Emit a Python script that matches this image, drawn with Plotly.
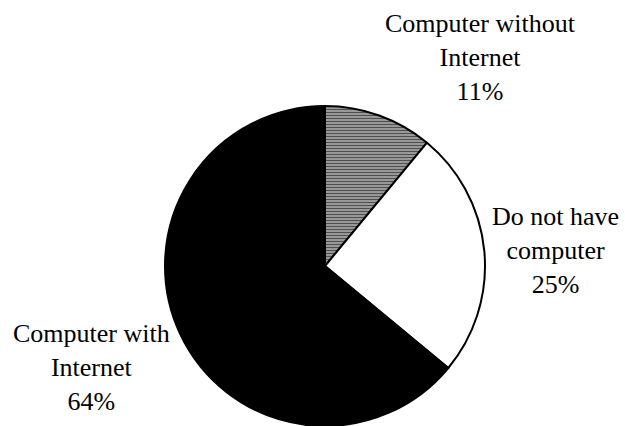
import plotly.graph_objects as go

categories = ["Computer without Internet", "Do not have computer", "Computer with Internet"]
label_lines = ["Computer without<br>Internet", "Do not have<br>computer", "Computer with<br>Internet"]
values = [11, 25, 64]

W, H = 625, 426
cx, cy, r = 325, 266, 160  # pixel centre / radius of pie

fig = go.Figure(go.Pie(
    labels=categories,
    values=values,
    sort=False,
    direction="clockwise",
    rotation=0,
    textinfo="none",
    hoverinfo="label+percent",
    marker=dict(
        colors=["#a0a0a0", "white", "black"],
        line=dict(color="black", width=2),
        pattern=dict(shape=["-", "", ""], fgcolor="#505050", bgcolor="#b0b0b0",
                     size=3, solidity=0.5),
    ),
    domain=dict(x=[(cx - r) / W, (cx + r) / W], y=[(H - cy - r) / H, (H - cy + r) / H]),
    showlegend=False,
))

label_pos = [(481, 58), (555, 250), (91, 367)]
total = sum(values)
for txt, v, (px, py) in zip(label_lines, values, label_pos):
    fig.add_annotation(
        text=f"{txt}<br>{round(100 * v / total)}%",
        x=px / W, y=1 - py / H, xref="paper", yref="paper",
        xanchor="center", yanchor="middle", showarrow=False,
        font=dict(family="Liberation Serif, Times New Roman, serif", size=26, color="black"),
    )

fig.update_layout(
    width=W, height=H,
    margin=dict(l=0, r=0, t=0, b=0),
    paper_bgcolor="white", plot_bgcolor="white",
)
fig.write_html("out.html", config={"displayModeBar": False},
               post_script="document.body.style.margin='0';")
